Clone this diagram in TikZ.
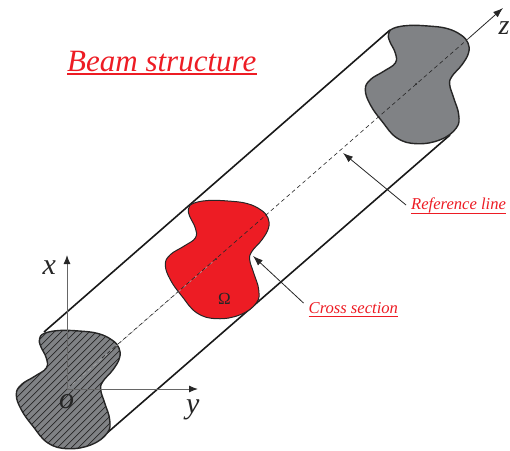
\documentclass[tikz,border=0pt]{standalone}
\usepackage{fontspec}
\setmainfont{Liberation Serif}
\usetikzlibrary{arrows.meta}
\definecolor{beamred}{HTML}{ED1C24}
\definecolor{beamgray}{HTML}{808285}
\newcommand{\beamsection}{plot[smooth cycle, tension=0.7] coordinates {
  (-23,-55.5) (-8,-58.5) (12,-58) (31,-55.5) (45,-49) (52,-41) (52.5,-31) (46,-19.3)
  (36,-7.7) (33.7,0.7) (37.7,14) (42.7,30.7) (40.3,44) (24.3,55.7) (1,59.7)
  (-19,54) (-34,37.3) (-45.7,20.7) (-50.7,5.7) (-45.7,-4.3) (-32.3,-12.7)
  (-20.7,-21) (-20.7,-31) (-26.3,-42.7) (-27.5,-50)}}
\begin{document}
\begin{tikzpicture}[
  x=1pt, y=-1pt,
  outline/.style={draw=black!85, line width=1.4pt},
  wall/.style={draw=black!90, line width=1.6pt},
  axis/.style={-{Latex[length=9pt,width=7pt,color=black!85]}, black!60, line width=1pt},
  leader/.style={-{Latex[length=10pt,width=7pt]}, black!85, line width=0.8pt},
  refline/.style={dashed, dash pattern=on 4pt off 3pt, black!85, line width=0.6pt},
  redlabel/.style={text=beamred, inner sep=0pt, anchor=base west, font=\fontsize{16.6}{18}\selectfont\itshape},
  axislabel/.style={text=black!85, inner sep=0pt, anchor=base west, font=\fontsize{30}{31}\selectfont\itshape}
]
\useasboundingbox (0,0) rectangle (510,450);
\coordinate (o) at (67,389);
\coordinate (mid) at (216,259);
\coordinate (top) at (416,84);
\coordinate (zend) at (469,38);
\coordinate (ztip) at (503,8);
\coordinate (xtip) at (67,255);
\coordinate (ytip) at (198,389);
\coordinate (wallAa) at (44,332);
\coordinate (wallAb) at (390,30);
\coordinate (wallBa) at (107,433);
\coordinate (wallBb) at (450,135);
\coordinate (leaderA) at (253,256);
\coordinate (leaderB) at (343,153);
% tube
\draw[wall] (wallAa) -- (wallAb);
\draw[wall] (wallBa) -- (wallBb);
% sections
\fill[beamgray, shift={(o)}] \beamsection;
\begin{scope}
  \clip[shift={(o)}] \beamsection;
  \foreach \i in {-16,...,16}
    \draw[black!85, line width=0.7pt] (o) ++(\i*7-70,70) -- ++(140,-140);
\end{scope}
\draw[outline, shift={(o)}] \beamsection;
\draw[outline, fill=beamred, line width=1pt, shift={(mid)}] \beamsection;
\draw[outline, fill=beamgray, shift={(top)}] \beamsection;
% reference line
\draw[refline, black!35] (o) -- (mid);
\draw[refline] (102,358) -- (zend);
\draw[-{Latex[length=10pt,width=7pt]}, black!85, line width=0.8pt] (zend) -- (ztip);
\fill[black!85] (mid) circle (1pt);
\fill[black!85] (top) circle (1pt);
% axes
\draw[axis] (o) -- (xtip);
\draw[axis] (o) -- (ytip);
\node[axislabel] (xlab) at (42.5,274) {x};
\node[axislabel] (ylab) at (186,413) {y};
\node[axislabel] (olab) at (59,408) {o};
\node[axislabel, font=\fontsize{28}{29}\selectfont\itshape] (zlab) at (498.5,34) {z};
% labels
\node[text=black!85, inner sep=0pt, anchor=base, font=\fontsize{17}{17}\selectfont] (omega) at (224.5,304) {Ω};
\node[redlabel, font=\fontsize{31}{32}\selectfont\itshape] (beam) at (67,71.7) {Beam structure};
\node[redlabel] (refl) at (411,209) {Reference line};
\node[redlabel] (cross) at (308.5,313) {Cross section};
\draw[beamred, line width=1.6pt] ([yshift=-2.2pt]beam.base west) -- ([yshift=-2.2pt]beam.base east);
\draw[beamred, line width=0.7pt] ([yshift=-4pt]refl.base west) -- ([yshift=-4pt]refl.base east);
\draw[beamred, line width=0.7pt] ([yshift=-3pt]cross.base west) -- ([yshift=-3pt]cross.base east);
\draw[leader] (refl.base west) ++(-5,-4) -- (leaderB);
\draw[leader] (cross.base west) ++(-5,-10) -- (leaderA);
\end{tikzpicture}
\end{document}
